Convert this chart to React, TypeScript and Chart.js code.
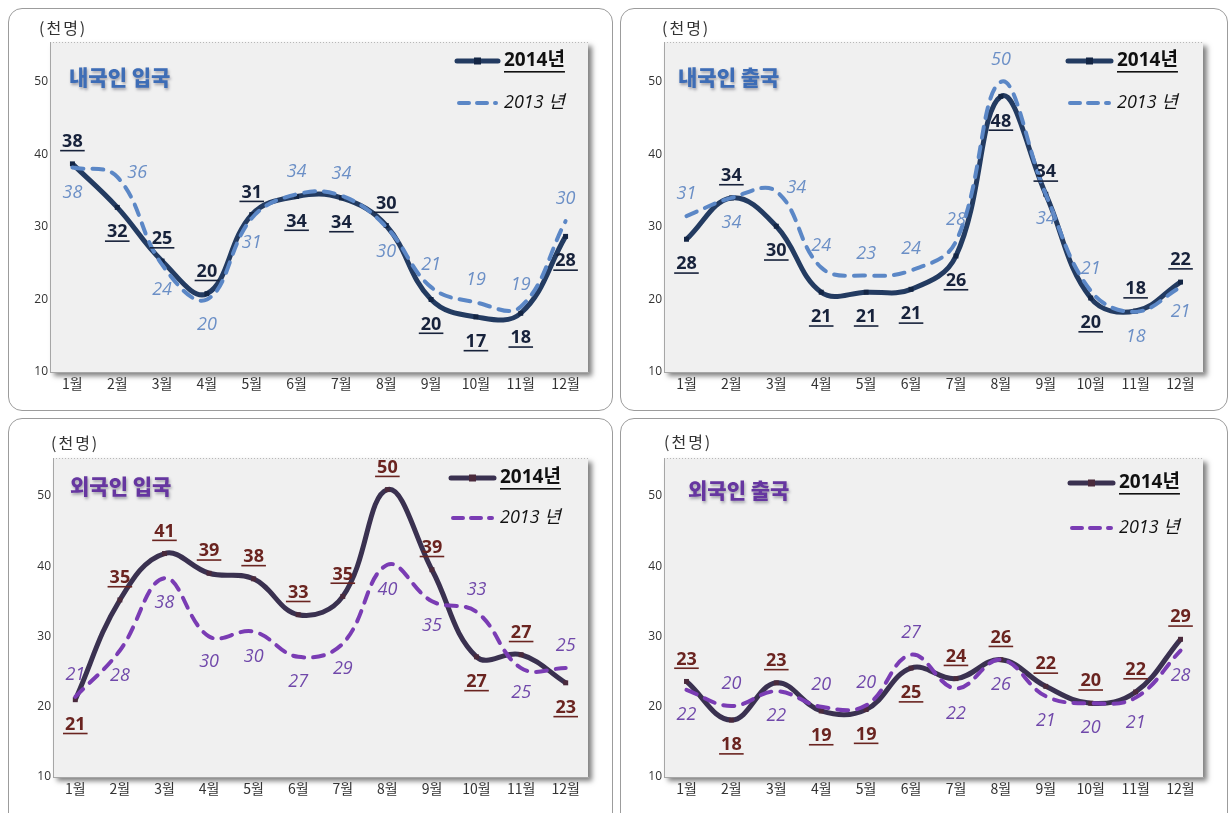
import React, { useEffect, useRef } from 'react';
import { Chart, registerables } from 'chart.js';

Chart.register(...registerables);

// ---- data ----
const months = ['1월', '2월', '3월', '4월', '5월', '6월', '7월', '8월', '9월', '10월', '11월', '12월'];
const yTickValues = [10, 20, 30, 40, 50];
const unitLabel = '(천명)';
const legend2014 = '2014년';
const legend2013 = '2013 년';

const titleCitizenIn = '내국인 입국';
const titleCitizenOut = '내국인 출국';
const titleForeignIn = '외국인 입국';
const titleForeignOut = '외국인 출국';

const citizenIn2014 = [38.7, 32.7, 25.3, 20.8, 31.7, 34.2, 34.0, 30.2, 20.0, 17.6, 18.1, 28.7];
const citizenIn2013 = [38.2, 36.9, 24.8, 20.0, 31.2, 34.5, 34.3, 30.0, 21.7, 19.6, 19.0, 30.8];
const citizenOut2014 = [28.3, 34.0, 30.1, 21.0, 21.0, 21.4, 26.0, 48.0, 34.5, 20.2, 18.4, 22.4];
const citizenOut2013 = [31.5, 34.0, 34.9, 24.4, 23.3, 24.0, 28.0, 50.0, 34.5, 21.2, 18.3, 21.7];
const foreignIn2014 = [21.0, 35.2, 41.8, 39.0, 38.2, 33.1, 35.7, 50.9, 39.5, 27.1, 27.4, 23.4];
const foreignIn2013 = [21.4, 28.0, 38.3, 30.0, 30.7, 27.1, 29.0, 40.2, 35.0, 33.5, 25.5, 25.5];
const foreignOut2014 = [23.6, 18.1, 23.4, 19.4, 19.6, 25.5, 24.0, 26.7, 22.9, 20.5, 22.1, 29.6];
const foreignOut2013 = [22.4, 20.1, 22.2, 20.0, 20.2, 27.4, 22.6, 26.7, 21.5, 20.5, 21.3, 28.0];

// label placement: a = above, b = below, r = right, l = left
const citizenIn2014Pos = ['a', 'b', 'a', 'a', 'a', 'b', 'b', 'a', 'b', 'b', 'b', 'b'];
const citizenIn2013Pos = ['b', 'r', 'b', 'b', 'b', 'a', 'a', 'b', 'a', 'a', 'a', 'a'];
const citizenOut2014Pos = ['b', 'a', 'b', 'b', 'b', 'b', 'b', 'b', 'a', 'b', 'a', 'a'];
const citizenOut2013Pos = ['a', 'b', 'r', 'a', 'a', 'a', 'a', 'a', 'b', 'a', 'b', 'b'];
const foreignIn2014Pos = ['b', 'a', 'a', 'a', 'a', 'a', 'a', 'a', 'a', 'b', 'a', 'b'];
const foreignIn2013Pos = ['a', 'b', 'b', 'b', 'b', 'b', 'b', 'b', 'b', 'a', 'b', 'a'];
const foreignOut2014Pos = ['a', 'b', 'a', 'b', 'b', 'b', 'a', 'a', 'a', 'a', 'a', 'a'];
const foreignOut2013Pos = ['b', 'a', 'b', 'a', 'a', 'a', 'b', 'b', 'b', 'b', 'b', 'b'];

// ---- styles ----
const KR = '"Noto Sans CJK KR", sans-serif';
const NUM = '"Open Sans", "Noto Sans CJK KR", sans-serif';

const blueTheme = {
  line14: '#233b61',
  point14: '#132544',
  line13: '#5b87c6',
  label14: '#17223b',
  label13: '#6b8fc6',
  title: '#3e6db6',
};
const purpleTheme = {
  line14: '#3a3150',
  point14: '#4a2a3c',
  line13: '#7a3cb4',
  label14: '#6a2420',
  label13: '#7048aa',
  title: '#6636a0',
};

type Rect = { x: number; y: number; w: number; h: number };

const panels = [
  {
    box: { x: 8, y: 8, w: 605, h: 403 },
    plot: { l: 50, t: 42, r: 588, b: 372 },
    yMax: 55.5,
    title: titleCitizenIn,
    theme: blueTheme,
    d14: citizenIn2014, d13: citizenIn2013, p14: citizenIn2014Pos, p13: citizenIn2013Pos,
    unit: [39, 28], titlePos: [69, 77], legX: [457, 498, 504], legY: [61, 103],
  },
  {
    box: { x: 620, y: 8, w: 608, h: 403 },
    plot: { l: 664, t: 42, r: 1203, b: 372 },
    yMax: 55.5,
    title: titleCitizenOut,
    theme: blueTheme,
    d14: citizenOut2014, d13: citizenOut2013, p14: citizenOut2014Pos, p13: citizenOut2013Pos,
    unit: [662, 28], titlePos: [678, 77], legX: [1068, 1111, 1117], legY: [61, 103],
  },
  {
    box: { x: 8, y: 418, w: 605, h: 395 },
    plot: { l: 53, t: 458, r: 588, b: 777 },
    yMax: 55.4,
    title: titleForeignIn,
    theme: purpleTheme,
    d14: foreignIn2014, d13: foreignIn2013, p14: foreignIn2014Pos, p13: foreignIn2013Pos,
    unit: [51, 443], titlePos: [70, 486], legX: [451, 494, 500], legY: [478, 518],
  },
  {
    box: { x: 620, y: 418, w: 608, h: 395 },
    plot: { l: 664, t: 458, r: 1203, b: 777 },
    yMax: 55.4,
    title: titleForeignOut,
    theme: purpleTheme,
    d14: foreignOut2014, d13: foreignOut2013, p14: foreignOut2014Pos, p13: foreignOut2013Pos,
    unit: [664, 442], titlePos: [688, 490], legX: [1070, 1113, 1119], legY: [483, 528],
  },
];

const Y_W = 30;
const X_H = 25;

function offsetFor(pos: string): [number, number] {
  if (pos === 'a') return [0, -22];
  if (pos === 'b') return [0, 25];
  if (pos === 'r') return [20, -4];
  return [-20, -4];
}

function Panel({ p }: { p: any }) {
  const ref = useRef<HTMLCanvasElement>(null);

  useEffect(() => {
    const canvas = ref.current;
    if (!canvas) return;
    const box: Rect = p.box;
    const ox = box.x;
    const oy = box.y;
    const th = p.theme;

    const deco = {
      id: 'deco',
      beforeDraw(chart: any) {
        const { ctx, chartArea: a } = chart;
        ctx.save();
        ctx.shadowColor = 'rgba(0,0,0,0.5)';
        ctx.shadowBlur = 5;
        ctx.shadowOffsetX = 4;
        ctx.shadowOffsetY = 4;
        ctx.fillStyle = '#f0f0f0';
        ctx.fillRect(a.left, a.top, a.right - a.left, a.bottom - a.top);
        ctx.restore();
        ctx.save();
        ctx.strokeStyle = '#b8b8b8';
        ctx.lineWidth = 1;
        ctx.setLineDash([1, 2]);
        ctx.beginPath();
        ctx.moveTo(a.left, a.top + 0.5);
        ctx.lineTo(a.right, a.top + 0.5);
        ctx.stroke();
        ctx.restore();
      },
      afterDatasetsDraw(chart: any) {
        const ctx = chart.ctx as CanvasRenderingContext2D;
        ctx.save();
        // data labels
        const drawSet = (dsIndex: number, values: number[], posArr: string[], is14: boolean) => {
          const meta = chart.getDatasetMeta(dsIndex);
          meta.data.forEach((el: any, i: number) => {
            const [dx, dy] = offsetFor(posArr[i]);
            const x = el.x + dx;
            const y = el.y + dy;
            const text = String(Math.floor(values[i]));
            ctx.textAlign = 'center';
            ctx.textBaseline = 'middle';
            if (is14) {
              ctx.font = `bold 18px ${NUM}`;
              ctx.fillStyle = th.label14;
              ctx.fillText(text, x, y);
              const w = ctx.measureText(text).width;
              ctx.fillRect(x - w / 2 - 2, y + 8, w + 4, 1.6);
            } else {
              ctx.font = `italic 18px ${NUM}`;
              ctx.fillStyle = th.label13;
              ctx.fillText(text, x, y);
            }
          });
        };
        drawSet(0, p.d14, p.p14, true);
        drawSet(1, p.d13, p.p13, false);

        // unit
        ctx.save();
        ctx.textAlign = 'left';
        ctx.textBaseline = 'middle';
        ctx.font = `16px ${KR}`;
        (ctx as any).letterSpacing = '2px';
        ctx.fillStyle = '#333333';
        ctx.fillText(unitLabel, p.unit[0] - ox, p.unit[1] - oy);
        ctx.restore();

        // title
        ctx.save();
        ctx.textAlign = 'left';
        ctx.textBaseline = 'middle';
        ctx.font = `900 21px ${KR}`;
        ctx.shadowColor = 'rgba(60,60,80,0.45)';
        ctx.shadowBlur = 3;
        ctx.shadowOffsetX = 1;
        ctx.shadowOffsetY = 2;
        ctx.fillStyle = th.title;
        ctx.fillText(p.title, p.titlePos[0] - ox, p.titlePos[1] - oy);
        ctx.restore();

        // legend
        const [lx0, lx1, tx] = p.legX;
        const [ly14, ly13] = p.legY;
        ctx.save();
        ctx.strokeStyle = th.line14;
        ctx.lineWidth = 5;
        ctx.lineCap = 'round';
        ctx.beginPath();
        ctx.moveTo(lx0 - ox, ly14 - oy);
        ctx.lineTo(lx1 - ox, ly14 - oy);
        ctx.stroke();
        ctx.fillStyle = th.point14;
        ctx.fillRect((lx0 + lx1) / 2 - 3.5 - ox, ly14 - 3.5 - oy, 7, 7);
        ctx.strokeStyle = th.line13;
        ctx.lineWidth = 4;
        ctx.setLineDash([10, 8]);
        ctx.beginPath();
        ctx.moveTo(lx0 - ox + 2, ly13 - oy);
        ctx.lineTo(lx1 - ox - 2, ly13 - oy);
        ctx.stroke();
        ctx.restore();

        ctx.textAlign = 'left';
        ctx.textBaseline = 'middle';
        ctx.font = `bold 19px ${NUM}`;
        ctx.fillStyle = '#111111';
        ctx.fillText(legend2014, tx - ox, ly14 - oy);
        const w14 = ctx.measureText(legend2014).width;
        ctx.fillRect(tx - ox, ly14 - oy + 10, w14, 1.6);
        ctx.font = `italic 18px ${NUM}`;
        ctx.fillStyle = '#111111';
        ctx.fillText(legend2013, tx - ox, ly13 - oy);
        ctx.restore();
      },
    };

    const padding = {
      left: p.plot.l - box.x - Y_W,
      right: box.x + box.w - p.plot.r,
      top: p.plot.t - box.y,
      bottom: box.y + box.h - p.plot.b - X_H,
    };

    const chart = new Chart(canvas, {
      type: 'line',
      data: {
        labels: months,
        datasets: [
          {
            label: legend2014,
            data: p.d14,
            borderColor: th.line14,
            borderWidth: 5,
            tension: 0.4,
            pointStyle: 'rect',
            pointRadius: 3.5,
            pointBackgroundColor: th.point14,
            pointBorderWidth: 0,
            fill: false,
            order: 1,
          },
          {
            label: legend2013,
            data: p.d13,
            borderColor: th.line13,
            borderWidth: 4,
            borderDash: [11, 9],
            borderCapStyle: 'round',
            tension: 0.4,
            pointRadius: 0,
            fill: false,
            order: 0,
          },
        ],
      },
      options: {
        responsive: false,
        animation: false,
        devicePixelRatio: 1,
        layout: { padding },
        plugins: {
          legend: { display: false },
          title: { display: false },
          tooltip: { enabled: false },
        },
        scales: {
          x: {
            type: 'category',
            offset: true,
            grid: { display: false, drawTicks: false },
            border: { display: true, color: '#a6a6a6', width: 1 },
            ticks: {
              font: { family: KR, size: 14 },
              color: '#333333',
              padding: 3,
              maxRotation: 0,
              autoSkip: false,
            },
            afterFit(scale: any) {
              scale.height = X_H;
              scale.paddingLeft = 0;
              scale.paddingRight = 0;
            },
          },
          y: {
            type: 'linear',
            min: 10,
            max: p.yMax,
            grid: { display: false, drawTicks: false },
            border: { display: true, color: '#a6a6a6', width: 1 },
            ticks: {
              font: { family: NUM, size: 12 },
              color: '#333333',
              padding: 2,
            },
            afterBuildTicks(scale: any) {
              scale.ticks = yTickValues.map((v) => ({ value: v }));
            },
            afterFit(scale: any) {
              scale.width = Y_W;
              scale.paddingTop = 0;
              scale.paddingBottom = 0;
            },
          },
        },
      },
      plugins: [deco],
    } as any);

    return () => chart.destroy();
  }, [p]);

  const b: Rect = p.box;
  return (
    <>
      <div
        style={{
          position: 'absolute',
          left: b.x,
          top: b.y,
          width: b.w,
          height: p.box.y > 100 ? b.h + 20 : b.h,
          border: '1px solid #9c9c9c',
          borderRadius: 14,
          boxSizing: 'border-box',
          background: '#ffffff',
        }}
      />
      <canvas
        ref={ref}
        width={b.w}
        height={b.h}
        style={{ position: 'absolute', left: b.x, top: b.y, width: b.w, height: b.h }}
      />
    </>
  );
}

export default function App() {
  return (
    <div
      style={{
        position: 'absolute',
        left: 0,
        top: 0,
        width: 1230,
        height: 813,
        overflow: 'hidden',
        background: '#ffffff',
      }}
    >
      {panels.map((p, i) => (
        <Panel key={i} p={p} />
      ))}
    </div>
  );
}
